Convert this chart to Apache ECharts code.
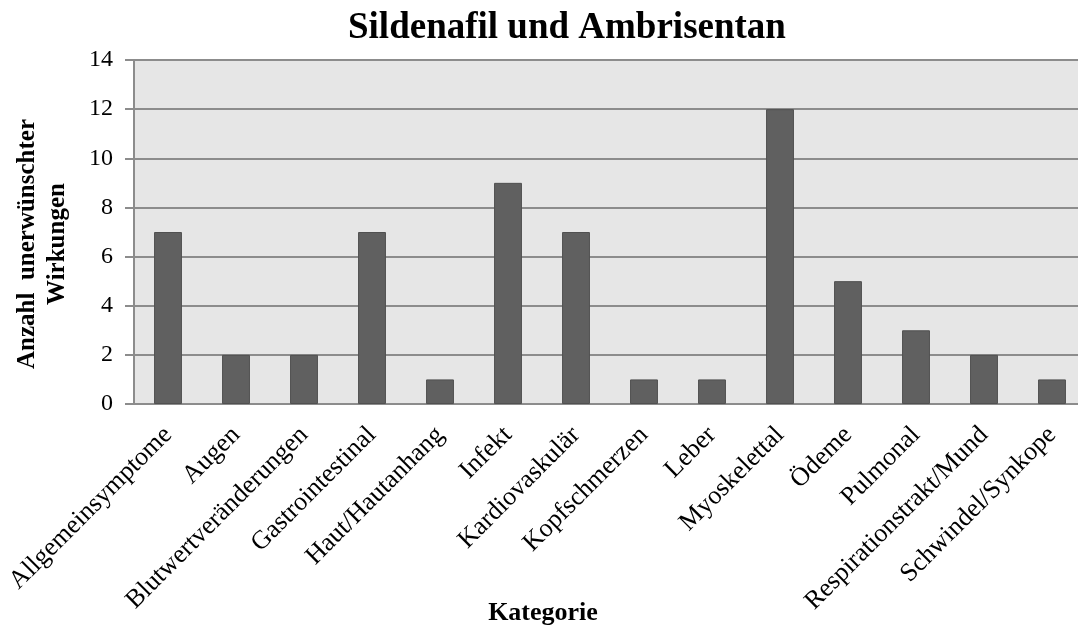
<!DOCTYPE html>
<html><head><meta charset="utf-8">
<script src="https://cdn.jsdelivr.net/npm/echarts@6/dist/echarts.min.js"></script>
<style>html,body{margin:0;padding:0;background:#fff}#c{width:1078px;height:627px}</style>
</head><body><div id="c"></div>
<script>
const categories = ["Allgemeinsymptome","Augen","Blutwertveränderungen","Gastrointestinal","Haut/Hautanhang","Infekt","Kardiovaskulär","Kopfschmerzen","Leber","Myoskelettal","Ödeme","Pulmonal","Respirationstrakt/Mund","Schwindel/Synkope"];
const values = [7,2,2,7,1,9,7,1,1,12,5,3,2,1];
const title = "Sildenafil und Ambrisentan";
const yName = "Anzahl  unerwünschter\nWirkungen";
const xName = "Kategorie";
const font = "'Liberation Serif','Times New Roman',serif";
const chart = echarts.init(document.getElementById('c'));
chart.setOption({
  animation:false,
  title:{text:title,left:343,top:5,textStyle:{fontFamily:font,fontSize:37,fontWeight:'bold',color:'#000'}},
  grid:{left:134,top:60,width:952,height:344,backgroundColor:'#e6e6e6',show:true,borderWidth:0,containLabel:false,outerBoundsMode:'none'},
  xAxis:{type:'category',data:categories,
    axisLine:{lineStyle:{color:'#8c8c8c',width:2}},
    axisTick:{show:false},
    axisLabel:{rotate:45,interval:0,fontFamily:font,fontSize:26,color:'#000',margin:27},
    name:xName,nameLocation:'middle',nameGap:196,nameMoveOverlap:false,
    nameTextStyle:{fontFamily:font,fontSize:26,fontWeight:'bold',color:'#000',padding:[0,134,0,0]}},
  yAxis:{type:'value',min:0,max:14,interval:2,
    axisLine:{show:true,lineStyle:{color:'#8c8c8c',width:2}},
    axisTick:{show:true,inside:false,length:9,lineStyle:{color:'#8c8c8c',width:2}},
    splitLine:{lineStyle:{color:'#8c8c8c',width:2}},
    axisLabel:{fontFamily:font,fontSize:24,color:'#000',margin:21},
    name:yName,nameLocation:'middle',nameRotate:90,nameGap:61,nameMoveOverlap:false,
    nameTextStyle:{fontFamily:font,fontSize:25,fontWeight:'bold',color:'#000',lineHeight:30,padding:[0,24,0,0]}},
  series:[{type:'bar',data:values,barWidth:'41%',
    itemStyle:{color:'#606060',borderColor:'#505050',borderWidth:1}}]
});
</script></body></html>
